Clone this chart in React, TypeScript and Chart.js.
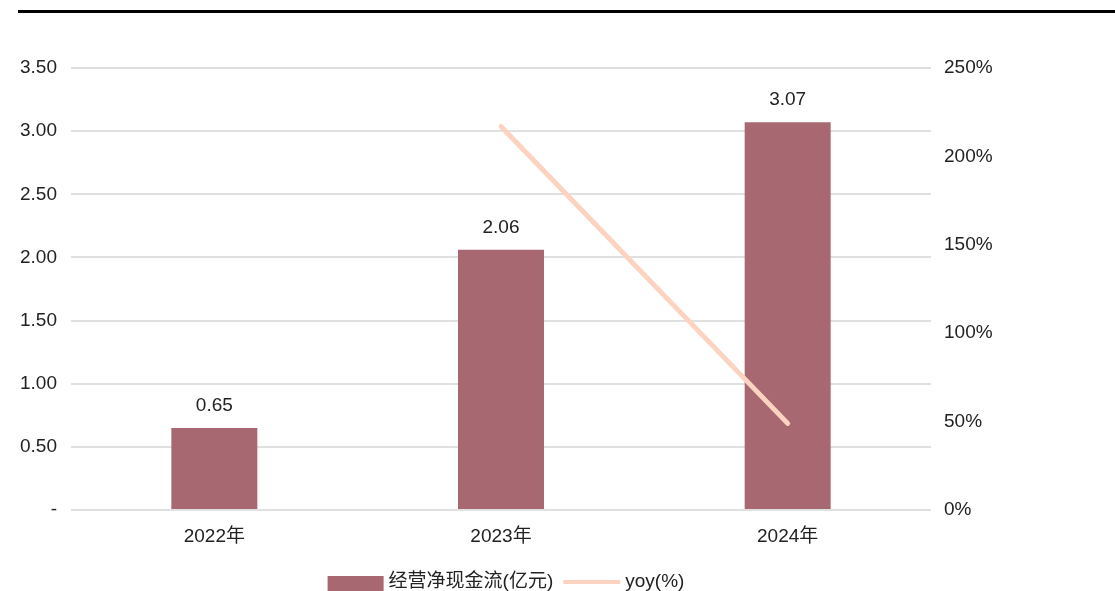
import React, { useEffect, useRef } from "react";
import { Chart, registerables } from "chart.js";

Chart.register(...registerables);

const categories = ["2022年", "2023年", "2024年"];
const cashFlow = [0.65, 2.06, 3.07];
const yoy = [null, 216.9, 49.0];
const seriesNames = ["经营净现金流(亿元)", "yoy(%)"];
const leftTicks = [0, 0.5, 1, 1.5, 2, 2.5, 3, 3.5];
const rightTicks = [0, 50, 100, 150, 200, 250];

const FONT_FAMILY = '"Liberation Sans", Arial, "Noto Sans CJK SC", sans-serif';
const BAR_COLOR = "#A86872";
const LINE_COLOR = "#FCD3C1";
const TEXT_COLOR = "#222222";
const GRID_COLOR = "#E0E0E0";

const labelPlugin = {
  id: "barLabels",
  afterDatasetsDraw(chart: any) {
    const ctx = chart.ctx;
    const meta = chart.getDatasetMeta(1);
    ctx.save();
    ctx.font = `19px ${FONT_FAMILY}`;
    ctx.fillStyle = TEXT_COLOR;
    ctx.textAlign = "center";
    ctx.textBaseline = "alphabetic";
    meta.data.forEach((el: any, i: number) => {
      ctx.fillText(cashFlow[i].toFixed(2), el.x, el.y - 17);
    });
    ctx.restore();
  },
};

const legendPlugin = {
  id: "customLegend",
  afterDraw(chart: any) {
    const ctx = chart.ctx;
    ctx.save();
    ctx.font = `19px ${FONT_FAMILY}`;
    ctx.fillStyle = TEXT_COLOR;
    ctx.textBaseline = "middle";
    ctx.textAlign = "left";
    const boxW = 56;
    const lineW = 57;
    const gap = 5;
    const itemGap = 6;
    const w0 = ctx.measureText(seriesNames[0]).width;
    const w1 = ctx.measureText(seriesNames[1]).width;
    const total = boxW + gap + w0 + itemGap + lineW + gap + w1;
    let x = chart.width / 2 - total / 2 - 4;
    const cy = 582;
    ctx.fillStyle = BAR_COLOR;
    ctx.fillRect(x, cy - 6, boxW, 18);
    x += boxW + gap;
    ctx.fillStyle = TEXT_COLOR;
    ctx.fillText(seriesNames[0], x, cy);
    x += w0 + itemGap + 4;
    ctx.strokeStyle = LINE_COLOR;
    ctx.lineWidth = 4;
    ctx.beginPath();
    ctx.moveTo(x, cy);
    ctx.lineTo(x + lineW, cy);
    ctx.stroke();
    x += lineW + gap;
    ctx.fillText(seriesNames[1], x, cy);
    ctx.restore();
  },
};

export default function App() {
  const ref = useRef<HTMLCanvasElement | null>(null);

  useEffect(() => {
    if (!ref.current) return;
    const chart = new Chart(ref.current, {
      data: {
        labels: categories,
        datasets: [
          {
            type: "line",
            label: seriesNames[1],
            data: yoy as any,
            yAxisID: "y1",
            borderColor: LINE_COLOR,
            backgroundColor: LINE_COLOR,
            borderWidth: 5,
            borderCapStyle: "round",
            pointRadius: 0,
            pointHoverRadius: 0,
            spanGaps: false,
            order: 0,
          },
          {
            type: "bar",
            label: seriesNames[0],
            data: cashFlow,
            yAxisID: "y",
            backgroundColor: BAR_COLOR,
            barPercentage: 0.3,
            categoryPercentage: 1,
            order: 1,
          },
        ],
      } as any,
      options: {
        animation: false,
        responsive: true,
        maintainAspectRatio: false,
        layout: { padding: { top: 68, bottom: 41, left: 0, right: 0 } },
        plugins: {
          legend: { display: false },
          tooltip: { enabled: false },
        },
        scales: {
          x: {
            grid: { display: false },
            border: { display: false },
            ticks: {
              color: TEXT_COLOR,
              font: { family: FONT_FAMILY, size: 19 },
              padding: 7,
            },
            afterFit: (s: any) => {
              s.height = 40;
            },
          },
          y: {
            position: "left",
            min: 0,
            max: 3.5,
            afterBuildTicks: (s: any) => {
              s.ticks = leftTicks.map((v) => ({ value: v }));
            },
            ticks: {
              color: TEXT_COLOR,
              font: { family: FONT_FAMILY, size: 19 },
              padding: 14,
              callback: (v: any) => (Number(v) === 0 ? "-" : Number(v).toFixed(2)),
            },
            grid: { color: GRID_COLOR, lineWidth: 2, drawTicks: false },
            border: { display: false },
            afterFit: (s: any) => {
              s.width = 71;
            },
          },
          y1: {
            position: "right",
            min: 0,
            max: 250,
            afterBuildTicks: (s: any) => {
              s.ticks = rightTicks.map((v) => ({ value: v }));
            },
            ticks: {
              color: TEXT_COLOR,
              font: { family: FONT_FAMILY, size: 19 },
              padding: 13,
              callback: (v: any) => `${v}%`,
            },
            grid: { display: false, drawTicks: false },
            border: { display: false },
            afterFit: (s: any) => {
              s.width = 85;
            },
          },
        },
      } as any,
      plugins: [labelPlugin, legendPlugin],
    });
    return () => chart.destroy();
  }, []);

  return (
    <div
      style={{
        position: "fixed",
        left: 0,
        top: 0,
        width: 1115,
        height: 591,
        background: "#ffffff",
        overflow: "hidden",
      }}
    >
      <div
        style={{
          position: "absolute",
          left: 18,
          top: 10,
          width: 1097,
          height: 3,
          background: "#000000",
        }}
      />
      <div style={{ position: "absolute", left: 0, top: 0, width: 1016, height: 591 }}>
        <canvas ref={ref} />
      </div>
    </div>
  );
}
